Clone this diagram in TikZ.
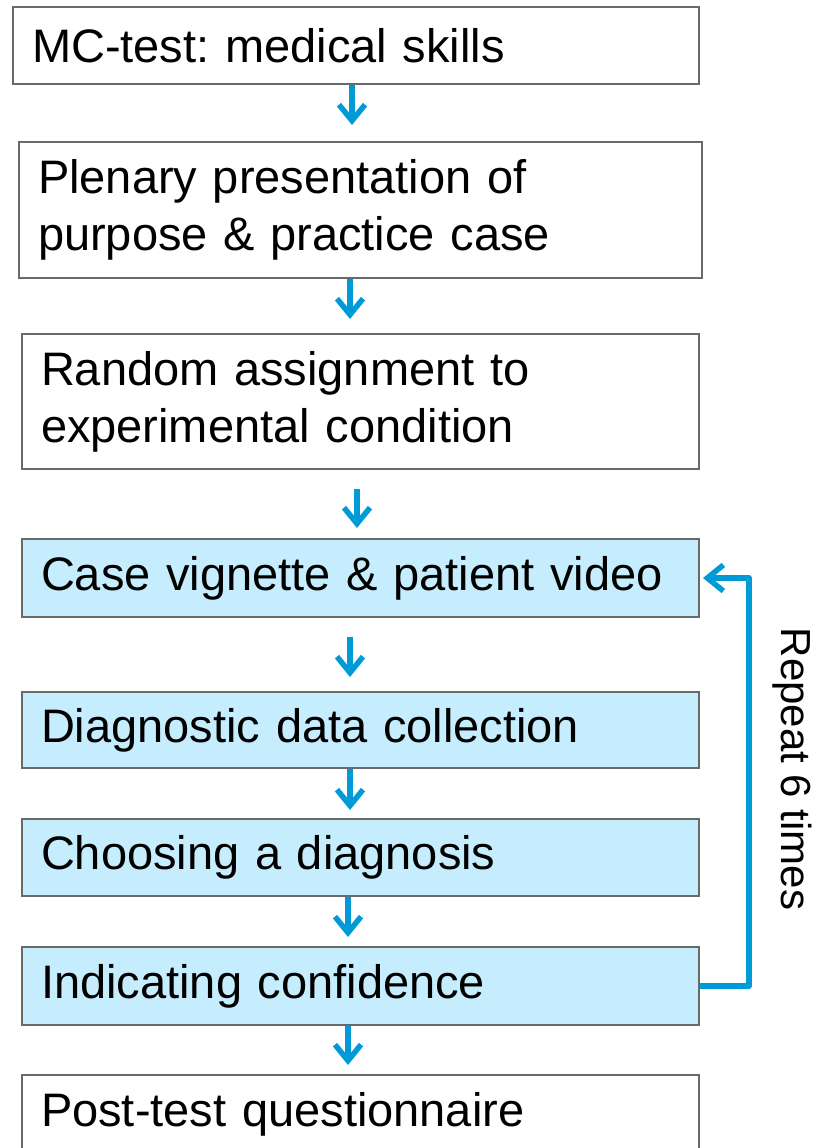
\documentclass[tikz,border=0pt]{standalone}
\usepackage{fontspec}
\setmainfont{Liberation Sans}
\usetikzlibrary{arrows.meta}
\definecolor{arrowblue}{RGB}{0,155,214}
\definecolor{boxblue}{RGB}{197,237,253}
\definecolor{boxline}{RGB}{105,105,105}
\frenchspacing
\tikzset{
 stepbox/.style={draw=boxline, line width=2pt, anchor=north west, align=left, inner xsep=19pt, inner ysep=0pt, font=\fontsize{47}{57}\selectfont\frenchspacing, text=black},
 bluebox/.style={stepbox, fill=boxblue},
 flow/.style={draw=arrowblue, line width=5.5pt, line join=round, -{Straight Barb[length=16pt,width=26pt]}},
 reptext/.style={rotate=-90, font=\fontsize{42}{50}\selectfont, inner sep=0pt},
}
\begin{document}
\begin{tikzpicture}[x=1pt,y=-1pt]
\useasboundingbox (0,0) rectangle (821,1148);
\clip (0,0) rectangle (821,1148);
\node[stepbox, minimum height=77pt, text width=648pt] (b1) at (12,6) {MC-test: medical skills};
\node[stepbox, minimum height=136pt, text width=645pt] (b2) at (18,141) {Plenary presentation of\\purpose \& practice case};
\node[stepbox, minimum height=135pt, text width=639pt] (b3) at (21,333) {Random assignment to\\experimental condition};
\node[bluebox, minimum height=78pt, text width=639pt] (b4) at (21,538) {Case vignette \& patient video};
\node[bluebox, minimum height=76pt, text width=639pt] (b5) at (21,691) {Diagnostic data collection};
\node[bluebox, minimum height=77pt, text width=639pt] (b6) at (21,818) {Choosing a diagnosis};
\node[bluebox, minimum height=78pt, text width=639pt] (b7) at (21,946) {Indicating confidence};
\node[stepbox, minimum height=78pt, text width=639pt] (b8) at (21,1074) {Post-test questionnaire};
\node[reptext] (rep) at (792,769) {Repeat 6 times};
\draw[flow, shorten >=16pt] ([xshift=-4pt]b1.south) -- ([xshift=-8.5pt]b2.north);
\draw[flow, shorten >=14pt] ([xshift=-10.5pt]b2.south) -- ([xshift=-10.5pt]b3.north);
\draw[flow, shorten <=19pt, shorten >=10pt] ([xshift=-3.5pt]b3.south) -- ([xshift=-3.5pt]b4.north);
\draw[flow, shorten <=19pt, shorten >=14pt] ([xshift=-10.5pt]b4.south) -- ([xshift=-10.5pt]b5.north);
\draw[flow, shorten >=8pt] ([xshift=-10.5pt]b5.south) -- ([xshift=-10.5pt]b6.north);
\draw[flow, shorten >=9pt] ([xshift=-12.5pt]b6.south) -- ([xshift=-12.5pt]b7.north);
\draw[flow, shorten >=9pt] ([xshift=-12.5pt]b7.south) -- ([xshift=-12.5pt]b8.north);
\draw[flow, shorten >=3pt] (b7.east) -- ++(49,0) |- (b4.east);
\end{tikzpicture}
\end{document}
